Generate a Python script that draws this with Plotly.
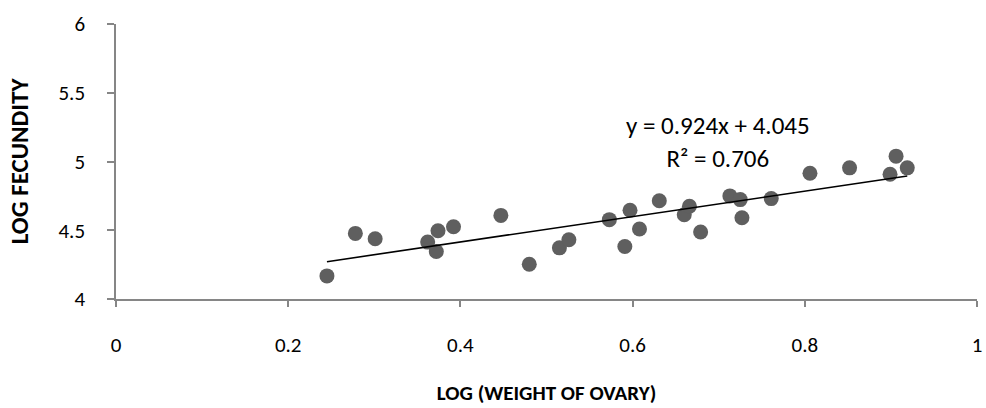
import plotly.graph_objects as go

log_weight_ovary = [0.245, 0.278, 0.301, 0.362, 0.374, 0.372, 0.392, 0.447, 0.480, 0.515,
                    0.526, 0.573, 0.591, 0.597, 0.608, 0.631, 0.660, 0.666, 0.679, 0.713,
                    0.725, 0.727, 0.761, 0.806, 0.852, 0.906, 0.899, 0.919]
log_fecundity = [4.168, 4.477, 4.438, 4.414, 4.496, 4.345, 4.526, 4.608, 4.253, 4.372,
                 4.431, 4.577, 4.382, 4.645, 4.509, 4.715, 4.613, 4.674, 4.487, 4.750,
                 4.723, 4.591, 4.730, 4.915, 4.954, 5.039, 4.907, 4.954]

slope = 0.924
intercept = 4.045
r_squared = 0.706

x_ticks = [0, 0.2, 0.4, 0.6, 0.8, 1]
x_tick_labels = ["0", "0.2", "0.4", "0.6", "0.8", "1"]
y_ticks = [4, 4.5, 5, 5.5, 6]
y_tick_labels = ["4", "4.5", "5", "5.5", "6"]

FONT = "Calibri, Carlito, Lato, sans-serif"
AXIS_GRAY = "#868686"

x_min = min(log_weight_ovary)
x_max = max(log_weight_ovary)
trend_x = [x_min, x_max]
trend_y = [slope * v + intercept for v in trend_x]

fig = go.Figure()
fig.add_trace(go.Scatter(
    x=log_weight_ovary, y=log_fecundity, mode="markers",
    marker=dict(size=15, color="#5f5f5f", line=dict(width=0)),
    showlegend=False, hoverinfo="x+y",
))
fig.add_trace(go.Scatter(
    x=trend_x, y=trend_y, mode="lines",
    line=dict(color="black", width=1.6),
    showlegend=False, hoverinfo="skip",
))

fig.add_annotation(
    x=0.699, y=5.145, xref="x", yref="y",
    text=f"y = {slope:.3f}x + {intercept:.3f}<br>R² = {r_squared:.3f}",
    showarrow=False, align="center",
    font=dict(family=FONT, size=25, color="black"),
)

fig.update_layout(
    width=986, height=408,
    margin=dict(l=116, r=9, t=24, b=109),
    paper_bgcolor="white", plot_bgcolor="white",
    font=dict(family=FONT, size=21, color="black"),
    xaxis=dict(
        range=[0, 1], tickvals=x_ticks, ticktext=x_tick_labels,
        showgrid=False, zeroline=False, automargin=False,
        showline=True, linecolor=AXIS_GRAY, linewidth=1.5,
        ticks="outside", ticklen=6, tickcolor=AXIS_GRAY, tickwidth=1.5,
        ticklabelstandoff=20,
        title=dict(text="<b>LOG (WEIGHT OF OVARY)</b>", standoff=28,
                   font=dict(family=FONT, size=21, color="black")),
    ),
    yaxis=dict(
        range=[4, 6], tickvals=y_ticks, ticktext=y_tick_labels,
        showgrid=False, zeroline=False, automargin=False,
        showline=True, linecolor=AXIS_GRAY, linewidth=1.5,
        ticks="outside", ticklen=7, tickcolor=AXIS_GRAY, tickwidth=1.5,
        ticklabelstandoff=18,
        title=dict(text="<b>LOG FECUNDITY</b>", standoff=23,
                   font=dict(family=FONT, size=25, color="black")),
    ),
)

fig.write_html("out.html")
